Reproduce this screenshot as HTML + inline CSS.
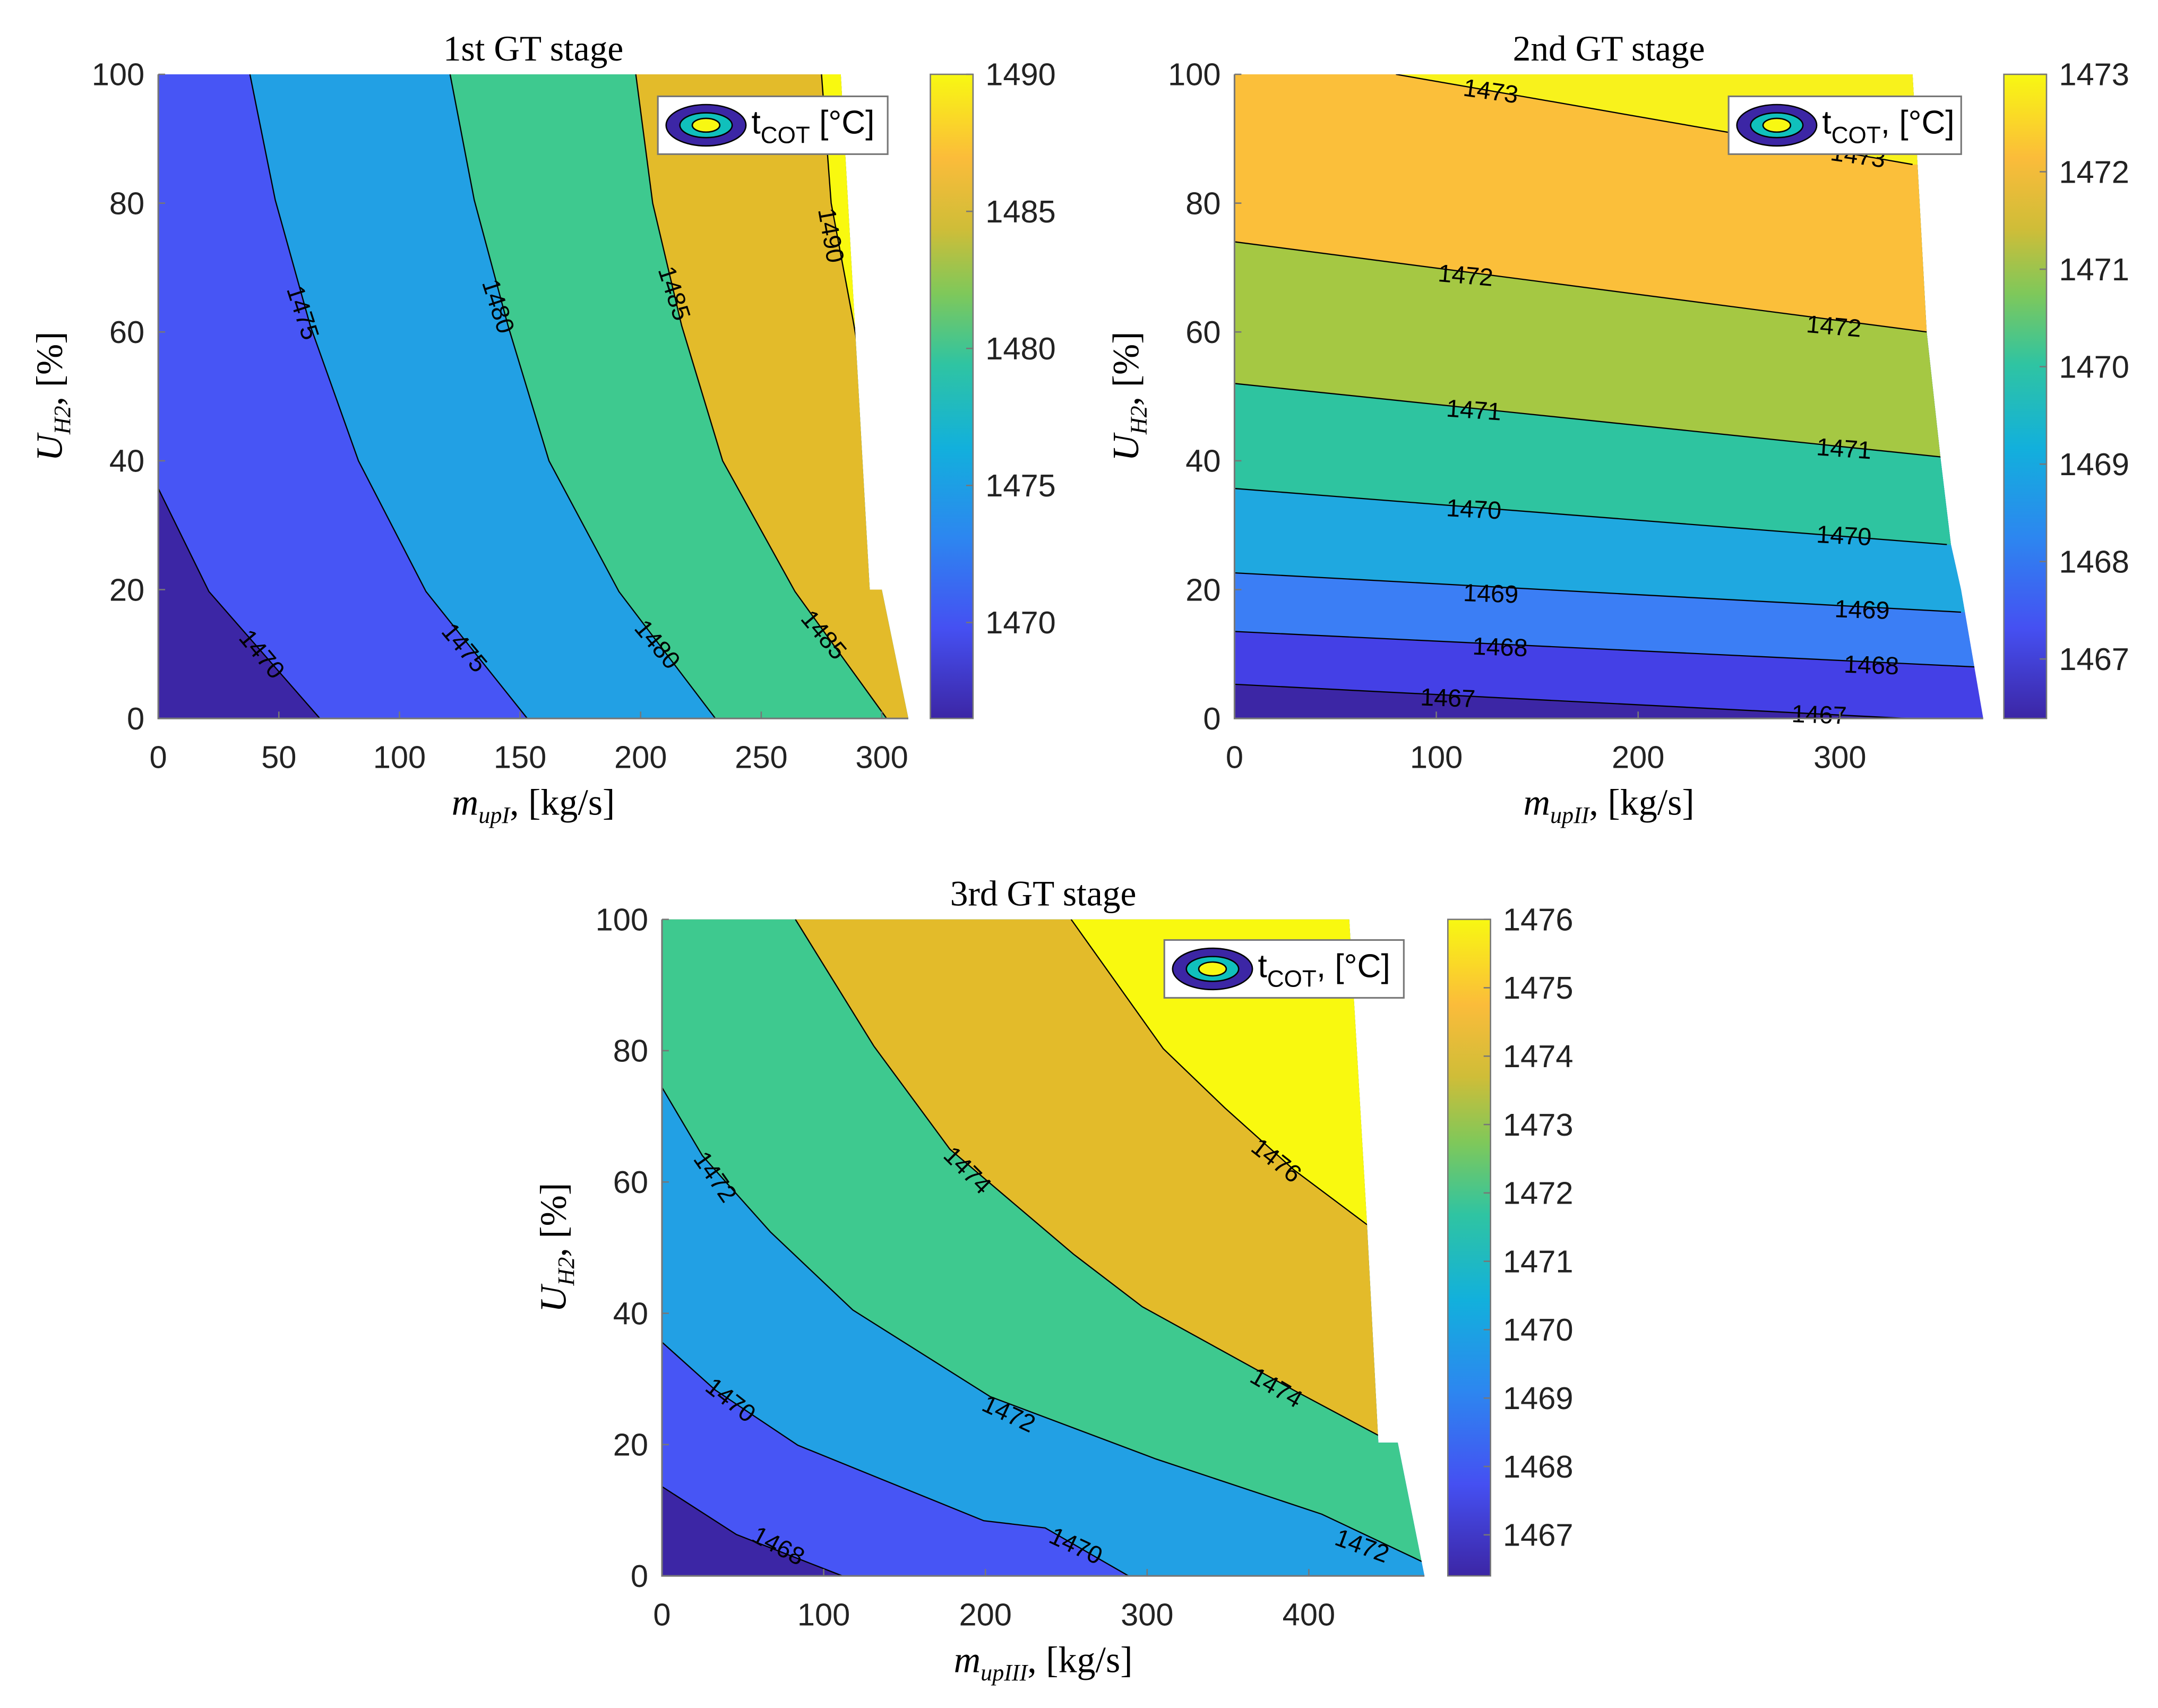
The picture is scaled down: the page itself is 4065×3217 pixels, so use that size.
<!DOCTYPE html>
<html><head><meta charset="utf-8"><style>
html,body{margin:0;padding:0;background:#fff;}
svg{display:block;}
text{font-family:"Liberation Sans",sans-serif;}
.serif{font-family:"Liberation Serif",serif;}
</style></head><body>
<svg id="fig" width="4065" height="3217" viewBox="0 0 1568 1241" preserveAspectRatio="none" xmlns="http://www.w3.org/2000/svg">
<defs>
<linearGradient id="parula" x1="0" y1="1" x2="0" y2="0">
<stop offset="0" stop-color="#3c26a5"/><stop offset="0.14" stop-color="#4550f2"/>
<stop offset="0.28" stop-color="#2d86f0"/><stop offset="0.42" stop-color="#12b0dc"/>
<stop offset="0.55" stop-color="#2fc4a2"/><stop offset="0.66" stop-color="#7fc85a"/>
<stop offset="0.76" stop-color="#cfbd38"/><stop offset="0.87" stop-color="#fbbc3a"/>
<stop offset="1" stop-color="#f8f812"/></linearGradient>
</defs>
</svg>
<script>
// ---------- data ----------
const p1Levels=[1470,1475,1480,1485,1490];
const p1Colors=['#3c26a5','#4755f5','#22a0e4','#3ec98f','#e3bb2a','#f9f90f'];
const p1Contours=[
 [[0,35.7],[21,19.7],[67,0]],
 [[38,100],[48.5,80.5],[63,61],[83,40],[111,19.7],[153,0]],
 [[121,100],[131,80.5],[145,61],[162,40],[191,19.7],[231,0]],
 [[198,100],[205,80],[217,61],[234,40],[264,19.7],[302,0]],
 [[275,100],[279,80],[288,62],[296,45]]];
const p1Domain=[[0,0],[0,100],[283,100],[292,40],[295,20],[300,20],[311,0]];
const p1Labels=[[1470,43,10,50],[1475,60,63,72],[1475,127,11,50],[1480,141,64,72],[1480,207,11.5,50],[1485,214,66,72],[1485,276,13,50],[1490,279,75,80]];
const p1XTicks=[0,50,100,150,200,250,300];
const p1CbTicks=[1470,1475,1480,1485,1490];

const p2Levels=[1467,1468,1469,1470,1471,1472,1473];
const p2Colors=['#3c26a5','#4440e6','#3b7ef5','#1fa8e0','#2ec4a0','#a5c843','#fbbf3a','#f8f21c'];
const p2Contours=[
 [[0,5.3],[333,0]],
 [[0,13.5],[367,8]],
 [[0,22.6],[360,16.5]],
 [[0,35.7],[353,27]],
 [[0,52],[350,40.6]],
 [[0,74],[343,60]],
 [[80,100],[336,86]]];
const p2Domain=[[0,0],[0,100],[336,100],[343,60],[350,40],[355,27],[360,20],[371,0]];
const p2Labels=[[1473,127,97.4,8],[1473,309,87.4,8],[1472,114.5,68.8,5],[1472,297,60.9,5],[1471,118.6,47.9,4],[1471,302,41.9,4],[1470,118.6,32.5,3],[1470,302,28.4,3],[1469,127,19.4,2],[1469,311,16.9,2],[1468,131.6,11.1,2],[1468,315.6,8.3,2],[1467,105.7,3.2,2],[1467,289.7,0.6,2]];
const p2XTicks=[0,100,200,300];
const p2CbTicks=[1467,1468,1469,1470,1471,1472,1473];

const p3Levels=[1468,1470,1472,1474,1476];
const p3Colors=['#3c26a5','#4755f5','#22a0e4','#3ec98f','#e3bb2a','#f9f90f'];
const p3Contours=[
 [[0,13.6],[46,6.3],[111.5,0]],
 [[0,35.6],[33,28.3],[84,19.9],[199,8.4],[237,7.3],[288.5,0]],
 [[0,74.4],[25,64],[67,52.4],[118,40.5],[203,27.3],[305.5,17.8],[408,9.4],[471.5,2]],
 [[82.5,100],[131,80.7],[178,65],[254.5,49],[297,41],[390.6,28.3],[443,21.4]],
 [[253,100],[310,80.3],[348,71.3],[391,61.8],[436,53.5]]];
const p3Domain=[[0,0],[0,100],[425,100],[436,53.5],[443,20.3],[455,20.3],[471.5,0]];
const p3Labels=[[1468,72,4.6,28],[1470,42.5,26.8,38],[1470,256,4.6,25],[1472,33,60.8,55],[1472,214.5,24.7,25],[1472,433,4.6,20],[1474,189,61.8,45],[1474,380,28.7,30],[1476,380,63.3,38]];
const p3XTicks=[0,100,200,300,400];
const p3CbTicks=[1467,1468,1469,1470,1471,1472,1473,1474,1475,1476];

const yTicks=[0,20,40,60,80,100];

// ---------- drawing ----------
const NS='http://www.w3.org/2000/svg';
const svg=document.getElementById('fig');
function mk(tag,attrs,parent){const e=document.createElementNS(NS,tag);for(const k in attrs)e.setAttribute(k,attrs[k]);(parent||svg).appendChild(e);return e;}

function drawPlot(id,cfg){
 const g=mk('g',{});
 
 
 const sx=v=>cfg.x0+(v-0)*(cfg.x1-cfg.x0)/cfg.xmax;
 const sy=v=>cfg.y1-(v)*(cfg.y1-cfg.y0)/100;
 const pts=a=>a.map(p=>sx(p[0]).toFixed(2)+','+sy(p[1]).toFixed(2)).join(' ');
 const clip=mk('clipPath',{id:id+'clip'},g);
 mk('polygon',{points:pts(cfg.domain)},clip);
 const fg=mk('g',{'clip-path':'url(#'+id+'clip)'},g);
 const base=mk('polygon',{points:pts(cfg.domain),fill:cfg.colors[0]},fg);
 
 
 cfg.contours.forEach((c,i)=>{
  const first=c[0],last=c[c.length-1],B=cfg.xmax*2;
  const poly=c.concat([[B,last[1]],[B,120],[-20,120],[-20,first[1]]]);
  const r=mk('polygon',{points:pts(poly),fill:cfg.colors[i+1]},fg);
  
  
 });
 cfg.contours.forEach((c,i)=>{
  const l=mk('polyline',{points:pts(c),fill:'none',stroke:'#000','stroke-width':0.9},fg);
  
  
 });
 cfg.labels.forEach(lb=>{
  const t=mk('text',{x:sx(lb[1]),y:sy(lb[2]),'font-size':18,'text-anchor':'middle','dominant-baseline':'central',transform:'rotate('+lb[3]+' '+sx(lb[1])+' '+sy(lb[2])+')'},g);
  t.textContent=lb[0];
  
  
 });
 // axes
 const ax=mk('path',{d:'M'+cfg.x0+','+cfg.y0+' V'+cfg.y1+' H'+cfg.x1,fill:'none',stroke:'#777','stroke-width':1.2},g);
 
 
 cfg.xticks.forEach(v=>{
  mk('line',{x1:sx(v),x2:sx(v),y1:cfg.y1,y2:cfg.y1-5,stroke:'#777','stroke-width':1},g);
  const t=mk('text',{x:sx(v),y:cfg.y1+36,'font-size':23,'text-anchor':'middle',fill:'#222'},g);
  t.textContent=v;
  
  
 });
 yTicks.forEach(v=>{
  mk('line',{x1:cfg.x0,x2:cfg.x0+5,y1:sy(v),y2:sy(v),stroke:'#777','stroke-width':1},g);
  const t=mk('text',{x:cfg.x0-10,y:sy(v)+8,'font-size':23,'text-anchor':'end',fill:'#222'},g);
  t.textContent=v;
  
  
 });
 // title & labels
 const cx=(cfg.x0+cfg.x1)/2;
 const ti=mk('text',{x:cx,y:cfg.y0-10,'font-size':26,'text-anchor':'middle',class:'serif'},g);
 ti.textContent=cfg.title;
 
 
 const xl=mk('text',{x:cx,y:cfg.y1+70,'font-size':27,'text-anchor':'middle',class:'serif'},g);
 xl.innerHTML='<tspan font-style="italic">m</tspan><tspan font-style="italic" font-size="17" dy="6">'+cfg.sub+'</tspan><tspan dy="-6">, [kg/s]</tspan>';
 
 
 const yc=(cfg.y0+cfg.y1)/2, yx=cfg.x0-70;
 const yl=mk('text',{x:yx,y:yc,'font-size':27,'text-anchor':'middle',class:'serif',transform:'rotate(-90 '+yx+' '+yc+')'},g);
 yl.innerHTML='<tspan font-style="italic">U</tspan><tspan font-style="italic" font-size="17" dy="6">H2</tspan><tspan dy="-6">, [%]</tspan>';
 
 
 // legend
 const L=cfg.legend;
 const lg=mk('g',{},g);
 
 
 mk('rect',{x:L[0],y:L[1],width:L[2],height:42,fill:'#fff',stroke:'#777','stroke-width':1.2},lg);
 const ex=L[0]+35,ey=L[1]+21;
 mk('ellipse',{cx:ex,cy:ey,rx:29,ry:15,fill:'#3c26a5',stroke:'#000','stroke-width':1},lg);
 mk('ellipse',{cx:ex,cy:ey,rx:19,ry:9,fill:'#10c0bc',stroke:'#000','stroke-width':1},lg);
 mk('ellipse',{cx:ex,cy:ey,rx:10,ry:5,fill:'#f8f812',stroke:'#000','stroke-width':1},lg);
 const lt=mk('text',{x:L[0]+68,y:L[1]+27,'font-size':24},lg);
 lt.innerHTML='t<tspan font-size="17" dy="7">COT</tspan><tspan dy="-7">'+cfg.legSep+' [°C]</tspan>';
 
 
 // colorbar
 const C=cfg.cb;
 const cb=mk('rect',{x:C.x,y:cfg.y0,width:31,height:cfg.y1-cfg.y0,fill:'url(#parula)',stroke:'#777','stroke-width':1},g);
 
 
 const cy=v=>cfg.y1-(v-C.min)*(cfg.y1-cfg.y0)/(C.max-C.min);
 cfg.cbTicks.forEach(v=>{
  mk('line',{x1:C.x+31,x2:C.x+26,y1:cy(v),y2:cy(v),stroke:'#777'},g);
  const t=mk('text',{x:C.x+40,y:cy(v)+8,'font-size':23,fill:'#222'},g);
  t.textContent=v;
  
  
 });
}
drawPlot('p1',{x0:115,x1:660,xmax:311,y0:54,y1:522,levels:p1Levels,colors:p1Colors,contours:p1Contours,domain:p1Domain,labels:p1Labels,xticks:p1XTicks,cbTicks:p1CbTicks,title:'1st GT stage',sub:'upI',legend:[478,70,167],legSep:'',cb:{x:676,min:1466.5,max:1490}});
drawPlot('p2',{x0:897,x1:1441,xmax:371,y0:54,y1:522,levels:p2Levels,colors:p2Colors,contours:p2Contours,domain:p2Domain,labels:p2Labels,xticks:p2XTicks,cbTicks:p2CbTicks,title:'2nd GT stage',sub:'upII',legend:[1256,70,169],legSep:',',cb:{x:1456,min:1466.39,max:1473}});
drawPlot('p3',{x0:481,x1:1035,xmax:471.5,y0:668,y1:1145,levels:p3Levels,colors:p3Colors,contours:p3Contours,domain:p3Domain,labels:p3Labels,xticks:p3XTicks,cbTicks:p3CbTicks,title:'3rd GT stage',sub:'upIII',legend:[846,683,174],legSep:',',cb:{x:1052,min:1466.4,max:1476}});
</script>
</body></html>
